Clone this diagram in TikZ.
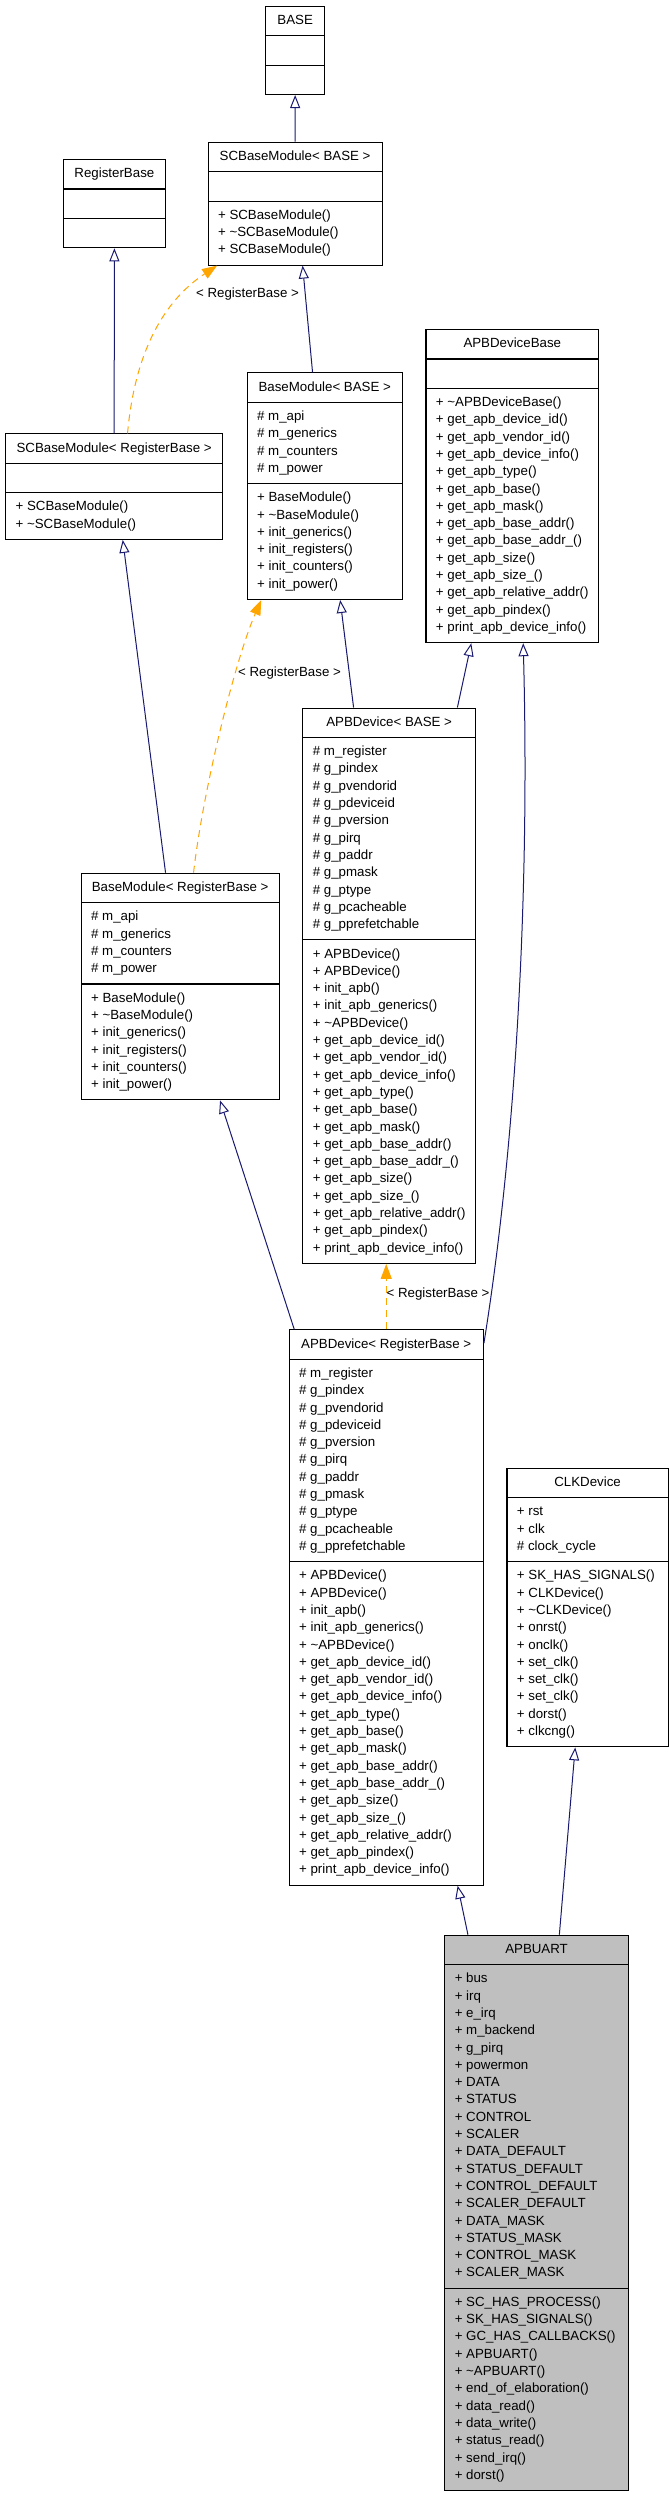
\documentclass[tikz,border=0pt]{standalone}
\usepackage{fontspec}
\setmainfont{Liberation Sans}
\usetikzlibrary{arrows.meta,shapes.multipart,calc}
\definecolor{umlBlue}{RGB}{25,25,112}
\definecolor{umlOrange}{RGB}{255,165,0}
\definecolor{umlGrey}{RGB}{191,191,191}
\newcommand{\members}[1]{\begin{tabular}{@{}l@{}}#1\end{tabular}}
\newcommand{\basemodattrs}{\members{\# m\_api\\\# m\_generics\\\# m\_counters\\\# m\_power}}
\newcommand{\basemodops}{\members{+ BaseModule()\\+ \textasciitilde BaseModule()\\+ init\_generics()\\+ init\_registers()\\+ init\_counters()\\+ init\_power()}}
\newcommand{\apbattrs}{\members{\# m\_register\\\# g\_pindex\\\# g\_pvendorid\\\# g\_pdeviceid\\\# g\_pversion\\\# g\_pirq\\\# g\_paddr\\\# g\_pmask\\\# g\_ptype\\\# g\_pcacheable\\\# g\_pprefetchable}}
\newcommand{\apbgetters}{+ get\_apb\_device\_id()\\+ get\_apb\_vendor\_id()\\+ get\_apb\_device\_info()\\+ get\_apb\_type()\\+ get\_apb\_base()\\+ get\_apb\_mask()\\+ get\_apb\_base\_addr()\\+ get\_apb\_base\_addr\_()\\+ get\_apb\_size()\\+ get\_apb\_size\_()\\+ get\_apb\_relative\_addr()\\+ get\_apb\_pindex()\\+ print\_apb\_device\_info()}
\newcommand{\apbops}{\members{+ APBDevice()\\+ APBDevice()\\+ init\_apb()\\+ init\_apb\_generics()\\+ \textasciitilde APBDevice()\\\apbgetters}}

\begin{document}
\begin{tikzpicture}[x=1pt,y=-1pt]
  \tikzset{
    umlclass/.style={rectangle split,rectangle split parts=3,rectangle split part align={center,left,left},
      draw=black,line width=1.1pt,fill=white,anchor=north west,inner xsep=10pt,inner ysep=5.5pt,
      font=\fontsize{13.3}{17.3}\selectfont},
    inherit/.style={draw=umlBlue,line width=1pt,-{Triangle[open,length=13pt,width=10pt]}},
    tmpl/.style={draw=umlOrange,line width=1pt,dash pattern=on 7pt off 5pt,-{Triangle[length=15pt,width=11pt]}},
    tmpllabel/.style={inner sep=0pt,font=\fontsize{13.3}{17.3}\selectfont}
  }
  \useasboundingbox (0,0) rectangle (669,2493);

  \node[umlclass,minimum width=59.2pt] (base) at (265,5.7)
    {BASE\strut\nodepart{two}\strut\nodepart{three}\strut};
  \node[umlclass,minimum width=174.1pt] (scbase) at (207.5,141.7)
    {SCBaseModule< BASE >\strut\nodepart{two}\strut
     \nodepart{three}\members{+ SCBaseModule()\\+ \textasciitilde SCBaseModule()\\+ SCBaseModule()}};
  \node[umlclass,minimum width=101.7pt] (regbase) at (63,159)
    {RegisterBase\strut\nodepart{two}\strut\nodepart{three}\strut};
  \node[umlclass,minimum width=170.2pt] (apbBase) at (425.4,329)
    {APBDeviceBase\strut\nodepart{two}\strut
     \nodepart{three}\members{+ \textasciitilde APBDeviceBase()\\\apbgetters}};
  \node[umlclass,minimum width=155.2pt] (baseB) at (246.6,372.3)
    {BaseModule< BASE >\strut\nodepart{two}\basemodattrs\nodepart{three}\basemodops};
  \node[umlclass,minimum width=217pt] (scbaseReg) at (5.1,433.3)
    {SCBaseModule< RegisterBase >\strut\nodepart{two}\strut
     \nodepart{three}\members{+ SCBaseModule()\\+ \textasciitilde SCBaseModule()}};
  \node[umlclass,minimum width=169.8pt] (apbB) at (302.3,707.5)
    {APBDevice< BASE >\strut\nodepart{two}\apbattrs\nodepart{three}\apbops};
  \node[umlclass,minimum width=198.1pt] (baseReg) at (80.6,872.7)
    {BaseModule< RegisterBase >\strut\nodepart{two}\basemodattrs\nodepart{three}\basemodops};
  \node[umlclass,minimum width=194.2pt] (apbReg) at (288.6,1329.3)
    {APBDevice< RegisterBase >\strut\nodepart{two}\apbattrs\nodepart{three}\apbops};
  \node[umlclass,minimum width=161.3pt] (clk) at (506.4,1467.7)
    {CLKDevice\strut\nodepart{two}\members{+ rst\\+ clk\\\# clock\_cycle}
     \nodepart{three}\members{+ SK\_HAS\_SIGNALS()\\+ CLKDevice()\\+ \textasciitilde CLKDevice()\\+ onrst()\\+ onclk()\\+ set\_clk()\\+ set\_clk()\\+ set\_clk()\\+ dorst()\\+ clkcng()}};
  \node[umlclass,fill=umlGrey,minimum width=183.6pt] (apbuart) at (444.2,1934.7)
    {APBUART\strut
     \nodepart{two}\members{+ bus\\+ irq\\+ e\_irq\\+ m\_backend\\+ g\_pirq\\+ powermon\\+ DATA\\+ STATUS\\+ CONTROL\\+ SCALER\\+ DATA\_DEFAULT\\+ STATUS\_DEFAULT\\+ CONTROL\_DEFAULT\\+ SCALER\_DEFAULT\\+ DATA\_MASK\\+ STATUS\_MASK\\+ CONTROL\_MASK\\+ SCALER\_MASK}
     \nodepart{three}\members{+ SC\_HAS\_PROCESS()\\+ SK\_HAS\_SIGNALS()\\+ GC\_HAS\_CALLBACKS()\\+ APBUART()\\+ \textasciitilde APBUART()\\+ end\_of\_elaboration()\\+ data\_read()\\+ data\_write()\\+ status\_read()\\+ send\_irq()\\+ dorst()}};

  % inheritance
  \foreach \c/\cx/\p/\px in {scbase/0/base/0,scbaseReg/0/regbase/0,baseB/-12.2/scbase/7.5,
      baseReg/-14.65/scbaseReg/8.6,apbB/-35.6/baseB/15.4,apbB/68.2/apbBase/-41,
      apbReg/-92/baseReg/39.85,apbuart/-68.6/apbReg/71.4,apbuart/22.8/clk/-12.4}
    \draw[inherit] ([xshift=\cx pt]\c.north) -- ([xshift=\px pt]\p.south);
  \draw[inherit] ([yshift=-14pt]apbReg.north east) .. controls (515,1150) and (530,900) .. ([xshift=10.9pt]apbBase.south);

  % template instances
  \draw[tmpl] ([xshift=13.4pt]scbaseReg.north) .. controls (135,350) and (165,300) .. ([xshift=-78pt]scbase.south);
  \draw[tmpl] ([xshift=13.35pt]baseReg.north) .. controls (203,790) and (235,660) .. ([xshift=-63.5pt]baseB.south);
  \draw[tmpl] (apbReg.north) -- (apbReg.north |- apbB.south);
  \node[tmpllabel] (lblA) at (247.5,294) {< RegisterBase >};
  \node[tmpllabel] (lblB) at (289.5,672.7) {< RegisterBase >};
  \node[tmpllabel] (lblC) at (438,1294) {< RegisterBase >};
\end{tikzpicture}
\end{document}
